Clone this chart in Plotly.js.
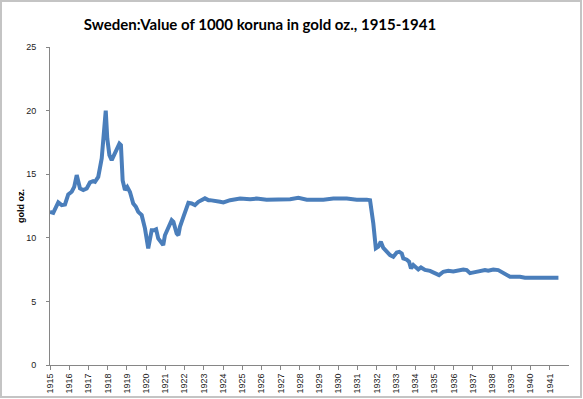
<!DOCTYPE html>
<html>
<head>
<meta charset="utf-8">
<script src="https://cdn.plot.ly/plotly-3.0.1.min.js"></script>
<style>
  html, body { margin: 0; padding: 0; background: #fff; }
  #chart { width: 583px; height: 399px; position: relative; }
  #frame { position: absolute; left: 0; top: 0; width: 582px; height: 398px; box-sizing: border-box; border: 2px solid #c4c4c4; pointer-events: none; }
</style>
</head>
<body>
<div id="chart"></div>
<div id="frame"></div>
<script>
// Decimal years (time of observation) and value of 1000 koruna in gold oz.
const years = [
  1915.00, 1915.17, 1915.43, 1915.61, 1915.78, 1915.95, 1916.13, 1916.26, 1916.39, 1916.47,
  1916.56, 1916.73, 1916.91, 1917.08, 1917.25, 1917.34, 1917.43, 1917.51, 1917.69, 1917.77,
  1917.90, 1917.98, 1918.09, 1918.21, 1918.29, 1918.38, 1918.50, 1918.61, 1918.69, 1918.78,
  1918.90, 1919.02, 1919.16, 1919.33, 1919.47, 1919.59, 1919.77, 1919.94, 1920.11, 1920.20,
  1920.29, 1920.43, 1920.52, 1920.63, 1920.81, 1920.89, 1920.98, 1921.15, 1921.33, 1921.42,
  1921.59, 1921.68, 1921.76, 1921.94, 1922.11, 1922.20, 1922.37, 1922.54, 1922.72, 1922.89,
  1923.06, 1923.24, 1923.32, 1923.85, 1924.02, 1924.37, 1924.89, 1925.41, 1925.75, 1926.27,
  1927.49, 1927.92, 1928.36, 1929.22, 1929.74, 1930.44, 1930.96, 1931.48, 1931.65, 1931.82,
  1931.95, 1932.08, 1932.21, 1932.34, 1932.52, 1932.69, 1932.86, 1933.04, 1933.17, 1933.30,
  1933.38, 1933.56, 1933.68, 1933.78, 1933.90, 1934.04, 1934.16, 1934.30, 1934.51, 1934.77,
  1935.03, 1935.24, 1935.46, 1935.72, 1935.98, 1936.24, 1936.50, 1936.68, 1936.85, 1937.11,
  1937.37, 1937.63, 1937.80, 1938.06, 1938.32, 1938.59, 1938.93, 1939.45, 1939.71, 1940.49,
  1941.45
];
const values = [
  12.04, 11.96, 12.78, 12.57, 12.62, 13.41, 13.62, 14.00, 14.93, 14.27,
  13.88, 13.75, 13.88, 14.35, 14.45, 14.40, 14.66, 14.79, 16.24, 17.54,
  20.00, 17.80, 16.50, 16.10, 16.36, 16.60, 17.00, 17.40, 17.28, 14.50,
  13.75, 14.00, 13.60, 12.70, 12.43, 12.04, 11.78, 10.74, 9.17, 10.08,
  10.60, 10.60, 10.66, 9.95, 9.56, 9.43, 10.20, 10.86, 11.39, 11.26,
  10.34, 10.20, 10.86, 11.65, 12.43, 12.75, 12.70, 12.57, 12.83, 13.00,
  13.10, 12.96, 12.96, 12.83, 12.78, 12.96, 13.08, 13.04, 13.08, 13.00,
  13.04, 13.14, 13.00, 13.00, 13.08, 13.08, 13.00, 13.00, 12.96, 11.13,
  9.17, 9.30, 9.69, 9.20, 8.90, 8.64, 8.51, 8.85, 8.90, 8.77,
  8.38, 8.28, 8.12, 7.59, 7.86, 7.63, 7.51, 7.67, 7.48, 7.40,
  7.25, 7.07, 7.33, 7.41, 7.36, 7.46, 7.51, 7.46, 7.22, 7.30,
  7.37, 7.46, 7.41, 7.51, 7.46, 7.25, 6.94, 6.94, 6.86, 6.86,
  6.86
];
const yearTicks = [1915,1916,1917,1918,1919,1920,1921,1922,1923,1924,1925,1926,1927,1928,
  1929,1930,1931,1932,1933,1934,1935,1936,1937,1938,1939,1940,1941];
const yearLabels = yearTicks.map(String);
const yTicks = [0, 5, 10, 15, 20, 25];
const titleText = "Sweden:Value of 1000 koruna in gold oz., 1915-1941";
const yTitle = "gold oz.";

const trace = {
  x: years, y: values, type: 'scatter', mode: 'lines',
  line: { color: '#4a7ebb', width: 4, shape: 'linear' },
  hoverinfo: 'x+y'
};

const layout = {
  width: 583, height: 399,
  margin: { l: 50, r: 14, t: 47, b: 34, pad: 0 },
  paper_bgcolor: '#fff', plot_bgcolor: '#fff',
  showlegend: false,
  title: {
    text: '<b>' + titleText + '</b>',
    font: { family: 'Lato, "Open Sans", sans-serif', size: 15, color: '#000' },
    x: 0.446, xanchor: 'center', xref: 'container', y: 0.937, yanchor: 'middle'
  },
  xaxis: {
    range: [1915, 1942], tickmode: 'array', tickvals: yearTicks, ticktext: yearLabels,
    tickangle: -90, ticks: 'outside', ticklen: 4, tickcolor: '#868686', tickwidth: 1,
    showline: true, linecolor: '#868686', linewidth: 1, showgrid: false, zeroline: false,
    tickfont: { family: '"Liberation Sans", Arial, sans-serif', size: 9, color: '#222' },
    fixedrange: true
  },
  yaxis: {
    range: [0, 25], tickmode: 'array', tickvals: yTicks,
    ticks: 'outside', ticklen: 3, tickcolor: '#868686', tickwidth: 1,
    showline: true, linecolor: '#868686', linewidth: 1, showgrid: false, zeroline: false,
    tickfont: { family: '"Liberation Sans", Arial, sans-serif', size: 9, color: '#222' },
    ticklabelstandoff: 8,
    title: { text: '<b>' + yTitle + '</b>', font: { family: '"Liberation Sans", Arial, sans-serif', size: 9, color: '#000' }, standoff: 0 },
    fixedrange: true
  }
};

Plotly.newPlot('chart', [trace], layout, { displayModeBar: false, staticPlot: true });
</script>
</body>
</html>
